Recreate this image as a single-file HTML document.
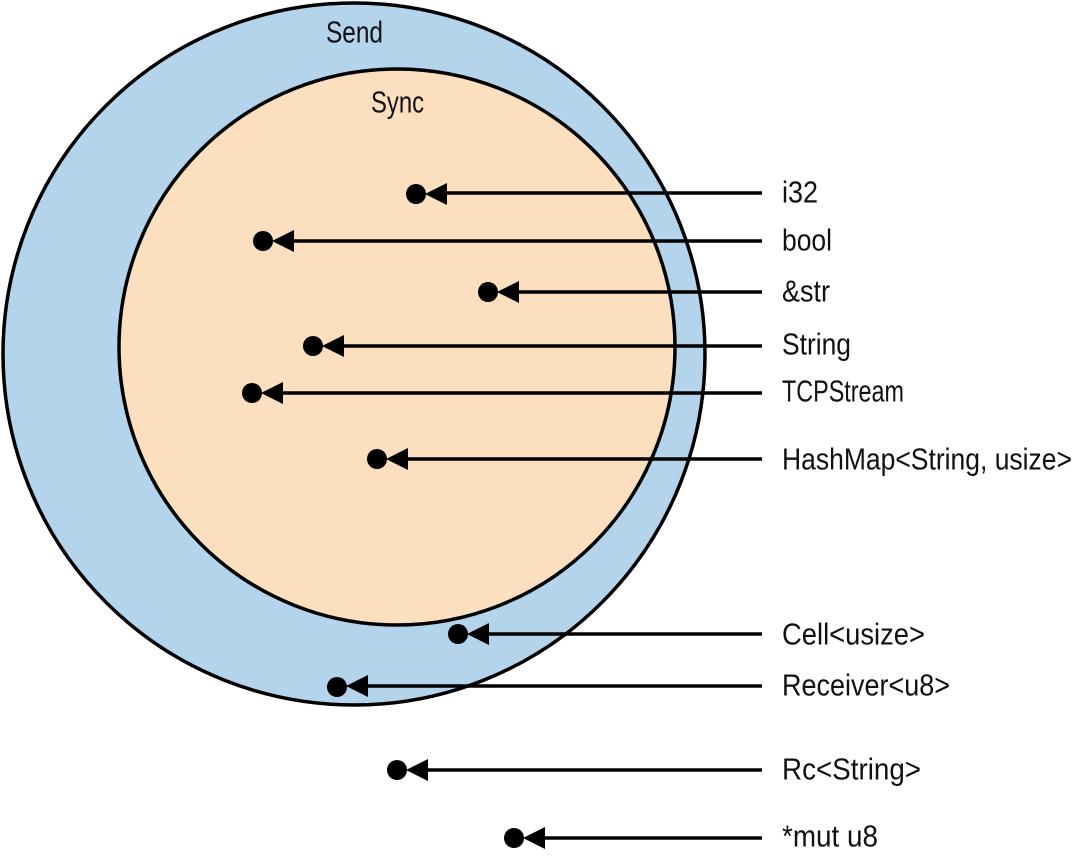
<!DOCTYPE html>
<html><head><style>html,body{margin:0;padding:0;background:#fff}svg{display:block}</style></head>
<body>
<svg width="1075" height="858" viewBox="0 0 1075 858" xmlns="http://www.w3.org/2000/svg">
<circle cx="354" cy="354" r="351" fill="#b3d4ea" stroke="#000" stroke-width="3.5"/>
<circle cx="397" cy="347" r="278" fill="#fbdfbe" stroke="#000" stroke-width="3.5"/>
<g font-family="Liberation Sans, sans-serif" font-size="31" fill="#111" dominant-baseline="central">
<text x="326" y="32" textLength="57" lengthAdjust="spacingAndGlyphs">Send</text>
<text x="371" y="102" textLength="53" lengthAdjust="spacingAndGlyphs">Sync</text>
</g>
<g stroke="#000" stroke-width="3.5">
<line x1="440" y1="193" x2="762" y2="193"/>
<line x1="287" y1="241" x2="762" y2="241"/>
<line x1="512" y1="292" x2="762" y2="292"/>
<line x1="337" y1="346" x2="762" y2="346"/>
<line x1="276" y1="393" x2="762" y2="393"/>
<line x1="401" y1="459" x2="762" y2="459"/>
<line x1="482" y1="634" x2="762" y2="634"/>
<line x1="361" y1="686" x2="762" y2="686"/>
<line x1="421" y1="770" x2="762" y2="770"/>
<line x1="538" y1="838" x2="762" y2="838"/>
</g>
<g fill="#000">
<circle cx="416" cy="194" r="10"/><polygon points="425,194 447,183 447,205"/>
<circle cx="263" cy="241" r="10"/><polygon points="272,241 294,230 294,252"/>
<circle cx="488" cy="292" r="10"/><polygon points="497,292 519,281 519,303"/>
<circle cx="313" cy="346" r="10"/><polygon points="322,346 344,335 344,357"/>
<circle cx="252" cy="393" r="10"/><polygon points="261,393 283,382 283,404"/>
<circle cx="377" cy="459" r="10"/><polygon points="386,459 408,448 408,470"/>
<circle cx="458" cy="634" r="10"/><polygon points="467,634 489,623 489,645"/>
<circle cx="337" cy="687" r="10"/><polygon points="346,686 368,675 368,697"/>
<circle cx="397" cy="770" r="10"/><polygon points="406,770 428,759 428,781"/>
<circle cx="514" cy="838" r="10"/><polygon points="523,838 545,827 545,849"/>
</g>
<g font-family="Liberation Sans, sans-serif" font-size="31" fill="#111" dominant-baseline="central">
<text x="782" y="192" textLength="36" lengthAdjust="spacingAndGlyphs">i32</text>
<text x="782" y="240" textLength="50" lengthAdjust="spacingAndGlyphs">bool</text>
<text x="782" y="291" textLength="48" lengthAdjust="spacingAndGlyphs">&amp;str</text>
<text x="782" y="344" textLength="69" lengthAdjust="spacingAndGlyphs">String</text>
<text x="782" y="391" textLength="122" lengthAdjust="spacingAndGlyphs">TCPStream</text>
<text x="782" y="459" textLength="290" lengthAdjust="spacingAndGlyphs">HashMap&lt;String, usize&gt;</text>
<text x="782" y="634" textLength="143" lengthAdjust="spacingAndGlyphs">Cell&lt;usize&gt;</text>
<text x="782" y="685" textLength="168" lengthAdjust="spacingAndGlyphs">Receiver&lt;u8&gt;</text>
<text x="782" y="769" textLength="139" lengthAdjust="spacingAndGlyphs">Rc&lt;String&gt;</text>
<text x="782" y="836" textLength="96" lengthAdjust="spacingAndGlyphs">*mut u8</text>
</g>
</svg>
</body></html>
